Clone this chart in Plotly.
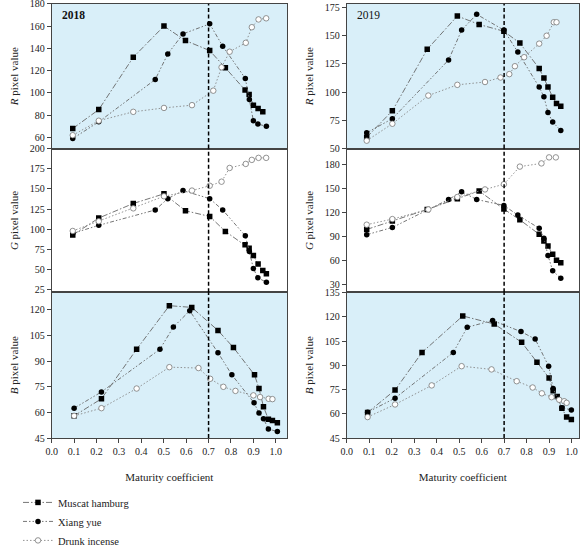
import plotly.graph_objects as go

# ---------------- data: 2018 ----------------
MH18_R_x = [0.094, 0.21, 0.364, 0.501, 0.597, 0.705, 0.775, 0.863, 0.881, 0.9, 0.921, 0.942]
MH18_R = [68, 85, 132, 160, 147, 138, 122.5, 102.5, 98.5, 89, 86, 83]
XY18_R_x = [0.094, 0.21, 0.462, 0.518, 0.586, 0.705, 0.763, 0.864, 0.882, 0.9, 0.92, 0.958]
XY18_R = [59, 74, 112, 135, 153, 162, 142, 113, 94, 75, 72, 70]
DI18_R_x = [0.094, 0.21, 0.364, 0.501, 0.626, 0.721, 0.758, 0.794, 0.866, 0.893, 0.923, 0.957]
DI18_R = [62, 75, 83, 86.5, 89, 102, 123, 137, 145, 159, 166, 167]

MH18_G_x = [0.094, 0.21, 0.364, 0.501, 0.597, 0.705, 0.775, 0.863, 0.881, 0.9, 0.921, 0.942, 0.958]
MH18_G = [93, 114, 132, 144, 123, 116, 97.5, 81, 76.5, 67.5, 57, 49, 45]
XY18_G_x = [0.094, 0.21, 0.462, 0.518, 0.586, 0.705, 0.763, 0.864, 0.882, 0.9, 0.92, 0.958]
XY18_G = [95, 105, 124, 138, 148, 138, 124, 92, 72.5, 51.5, 40, 34.5]
DI18_G_x = [0.094, 0.21, 0.364, 0.501, 0.626, 0.705, 0.758, 0.794, 0.866, 0.893, 0.923, 0.957]
DI18_G = [98, 110, 126, 141, 148, 154, 159, 176, 181, 186, 188.5, 188.5]

MH18_B_x = [0.1, 0.222, 0.379, 0.525, 0.625, 0.742, 0.811, 0.905, 0.925, 0.945, 0.967, 0.985, 1.007]
MH18_B = [58, 68, 97, 122.5, 121.5, 108, 98, 82, 74, 63.4, 56, 55.3, 54]
XY18_B_x = [0.1, 0.222, 0.483, 0.543, 0.616, 0.742, 0.804, 0.903, 0.925, 0.945, 0.967, 1.007]
XY18_B = [62.5, 72, 97, 110, 119.5, 95, 82, 65.6, 59.6, 56.3, 50.3, 48.8]
DI18_B_x = [0.1, 0.222, 0.379, 0.525, 0.655, 0.707, 0.766, 0.82, 0.9, 0.93, 0.968, 0.985]
DI18_B = [58, 62.5, 74, 86.5, 86, 79.7, 75, 72.6, 70, 69, 68, 67.8]

# ---------------- data: 2019 ----------------
MH19_R_x = [0.089, 0.203, 0.358, 0.492, 0.589, 0.699, 0.77, 0.856, 0.877, 0.895, 0.916, 0.933, 0.952]
MH19_R = [60, 83.5, 138, 167.5, 160, 154, 143.5, 121, 112.5, 104.5, 95.5, 90, 87.5]
XY19_R_x = [0.089, 0.203, 0.453, 0.511, 0.578, 0.699, 0.761, 0.856, 0.877, 0.895, 0.916, 0.952]
XY19_R = [64, 76.5, 128.5, 155, 169, 155, 135.5, 104.5, 96, 82, 73.5, 66]
DI19_R_x = [0.089, 0.203, 0.363, 0.492, 0.615, 0.684, 0.723, 0.748, 0.789, 0.856, 0.889, 0.921, 0.933]
DI19_R = [57, 72, 97, 106.5, 109, 113, 116, 123, 131, 143, 150, 162, 162]

MH19_G_x = [0.089, 0.203, 0.358, 0.492, 0.589, 0.699, 0.77, 0.856, 0.877, 0.895, 0.916, 0.933, 0.952]
MH19_G = [98.5, 109, 123.5, 137, 146.5, 124, 110.5, 92.5, 84, 78, 67.5, 60, 57]
XY19_G_x = [0.089, 0.203, 0.453, 0.511, 0.578, 0.699, 0.761, 0.856, 0.877, 0.895, 0.916, 0.952]
XY19_G = [92, 101, 136, 145.5, 136, 128.5, 116.5, 100, 87.5, 66, 47, 37.5]
DI19_G_x = [0.089, 0.203, 0.363, 0.492, 0.615, 0.699, 0.77, 0.866, 0.9, 0.93]
DI19_G = [104.5, 111.5, 123.5, 139, 148.5, 155, 177, 181, 188.5, 188.5]

MH19_B_x = [0.093, 0.215, 0.335, 0.516, 0.656, 0.778, 0.846, 0.9, 0.918, 0.936, 0.957, 0.978, 0.999]
MH19_B = [60.8, 74.7, 98, 120.6, 115.6, 104.3, 92, 82.2, 74.3, 70.7, 63.4, 58, 56.5]
XY19_B_x = [0.093, 0.215, 0.474, 0.536, 0.649, 0.775, 0.838, 0.898, 0.918, 0.957, 0.999]
XY19_B = [61, 69.7, 98, 113.6, 117.8, 110.9, 106.3, 89.5, 75.7, 63.8, 62.4]
DI19_B_x = [0.093, 0.215, 0.378, 0.511, 0.644, 0.756, 0.827, 0.868, 0.911, 0.945, 0.967, 0.978]
DI19_B = [58, 65.8, 77.6, 89.5, 87.5, 80.2, 76.3, 72.7, 70.3, 68.7, 67.8, 66.8]

SERIES = ["Muscat hamburg", "Xiang yue", "Drunk incense"]
YEARS = ["2018", "2019"]
X_TICKS = [0.0, 0.1, 0.2, 0.3, 0.4, 0.5, 0.6, 0.7, 0.8, 0.9, 1.0]
DIVIDER = 0.7

# ticks / ranges per panel (col, row)
Y_TICKS = {
    (0, 0): [60, 80, 100, 120, 140, 160, 180],
    (0, 1): [25, 50, 75, 100, 125, 150, 175, 200],
    (0, 2): [45, 60, 75, 90, 105, 120],
    (1, 0): [50, 75, 100, 125, 150, 175],
    (1, 1): [30, 60, 90, 120, 150, 180],
    (1, 2): [45, 60, 75, 90, 105, 120, 135],
}
Y_RANGE = {
    (0, 0): [50, 180], (0, 1): [22, 200], (0, 2): [45, 130.3],
    (1, 0): [50, 178.3], (1, 1): [20, 199.5], (1, 2): [45, 135.2],
}
X_RANGE = {0: [0, 1.05], 1: [0, 1.033]}
Y_TITLES = ["<i>R</i> pixel value", "<i>G</i> pixel value", "<i>B</i> pixel value"]

DATA = {
    (0, 0): [(MH18_R_x, MH18_R), (XY18_R_x, XY18_R), (DI18_R_x, DI18_R)],
    (0, 1): [(MH18_G_x, MH18_G), (XY18_G_x, XY18_G), (DI18_G_x, DI18_G)],
    (0, 2): [(MH18_B_x, MH18_B), (XY18_B_x, XY18_B), (DI18_B_x, DI18_B)],
    (1, 0): [(MH19_R_x, MH19_R), (XY19_R_x, XY19_R), (DI19_R_x, DI19_R)],
    (1, 1): [(MH19_G_x, MH19_G), (XY19_G_x, XY19_G), (DI19_G_x, DI19_G)],
    (1, 2): [(MH19_B_x, MH19_B), (XY19_B_x, XY19_B), (DI19_B_x, DI19_B)],
}

W, H = 582, 555
FONT = "Liberation Serif"
BLUE = "#d9eff9"
LINE_COL = "#666666"

def px_x(p):
    return p / W

def px_y(p):
    return 1 - p / H

X_DOM = [[px_x(51.7), px_x(287)], [px_x(346.7), px_x(579)]]
ROW_PX = [(4, 155), (155, 305), (305, 457)]
Y_DOM = [[px_y(b), px_y(t)] for (t, b) in ROW_PX]

STYLES = [
    dict(line=dict(color=LINE_COL, width=0.9, dash="6px,2px,1.5px,2px"),
         marker=dict(symbol="square", size=5.5, color="black", line=dict(width=0))),
    dict(line=dict(color=LINE_COL, width=0.9, dash="4px,2px,1.5px,2px,1.5px,2px"),
         marker=dict(symbol="circle", size=5.5, color="black", line=dict(width=0))),
    dict(line=dict(color="#888888", width=0.9, dash="1.5px,2px"),
         marker=dict(symbol="circle", size=5.5, color="white", line=dict(width=0.8, color="#777777"))),
]

fig = go.Figure()
layout = dict(
    width=W, height=H,
    margin=dict(l=0, r=0, t=0, b=0),
    paper_bgcolor="white",
    plot_bgcolor="white",
    font=dict(family=FONT, size=11, color="#222222"),
    showlegend=True,
    legend=dict(x=px_x(18), y=px_y(509), xanchor="left", yanchor="top",
                font=dict(family=FONT, size=10.5, color="#222222"),
                bgcolor="rgba(0,0,0,0)", tracegroupgap=0, itemwidth=30),
)

shapes = []
annotations = []
idx = 0
for col in range(2):
    for row in range(3):
        idx += 1
        xa = "xaxis" if idx == 1 else f"xaxis{idx}"
        ya = "yaxis" if idx == 1 else f"yaxis{idx}"
        xr = "x" if idx == 1 else f"x{idx}"
        yr = "y" if idx == 1 else f"y{idx}"
        bottom = row == 2
        layout[xa] = dict(
            domain=X_DOM[col], anchor=yr, range=X_RANGE[col], automargin=False,
            ticklabeloverflow="allow",
            tickvals=X_TICKS if bottom else [],
            ticktext=[f"{v:.1f}" for v in X_TICKS] if bottom else [],
            ticks="outside" if bottom else "", ticklen=4, tickcolor="#444",
            showline=True, mirror=True, linecolor="#444", linewidth=1,
            showgrid=False, zeroline=False,
            tickfont=dict(family=FONT, size=10),
            title=dict(text="Maturity coefficient" if bottom else "",
                       font=dict(family=FONT, size=11), standoff=17),
        )
        layout[ya] = dict(
            domain=Y_DOM[row], anchor=xr, range=Y_RANGE[(col, row)], automargin=False,
            ticklabeloverflow="allow",
            tickvals=Y_TICKS[(col, row)], ticks="outside", ticklen=4, tickcolor="#444",
            showline=True, mirror=True, linecolor="#444", linewidth=1,
            showgrid=False, zeroline=False,
            tickfont=dict(family=FONT, size=10),
            title=dict(text=Y_TITLES[row], font=dict(family=FONT, size=11), standoff=8),
        )
        if row != 1:
            shapes.append(dict(type="rect", xref=f"{xr} domain", yref=f"{yr} domain",
                               x0=0, x1=1, y0=0, y1=1, fillcolor=BLUE, line=dict(width=0),
                               layer="below"))
        shapes.append(dict(type="line", xref=xr, yref=f"{yr} domain",
                           x0=DIVIDER, x1=DIVIDER, y0=0, y1=1,
                           line=dict(color="black", width=1.5, dash="4px,2.5px")))
        for s, (xs, ys) in enumerate(DATA[(col, row)]):
            fig.add_trace(go.Scatter(
                x=xs, y=ys, mode="lines+markers", name=SERIES[s],
                legendgroup=SERIES[s], showlegend=(idx == 1),
                xaxis=xr, yaxis=yr, **STYLES[s]))
        if row == 0:
            annotations.append(dict(
                text=f"<b>{YEARS[col]}</b>" if col == 0 else YEARS[col],
                xref=f"{xr} domain", yref=f"{yr} domain", x=0.035, y=0.92,
                xanchor="left", yanchor="middle", showarrow=False,
                font=dict(family=FONT, size=11.5, color="#111")))

layout["shapes"] = shapes
layout["annotations"] = annotations
fig.update_layout(**layout)
fig.write_html(
    "out.html",
    config={"displayModeBar": False},
    post_script="document.body.style.margin='0';document.body.style.overflow='hidden';",
)
